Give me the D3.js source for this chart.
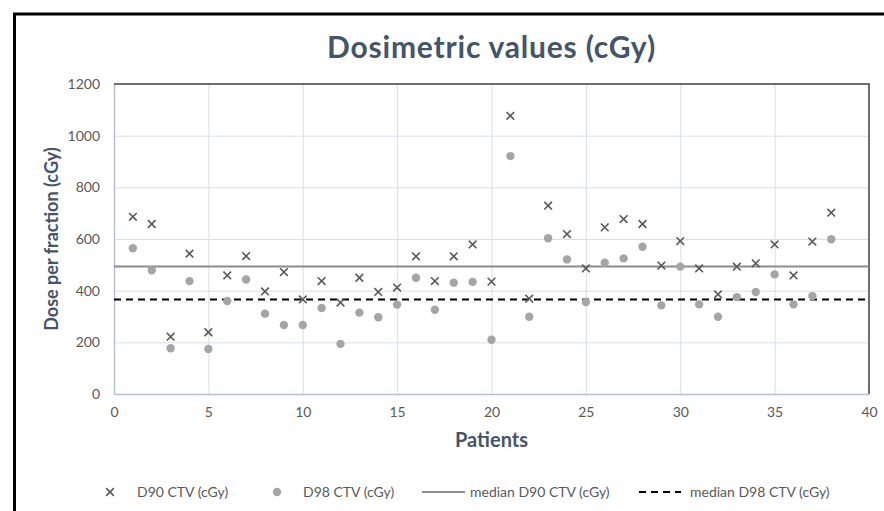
<!DOCTYPE html>
<html>
<head>
<meta charset="utf-8">
<script src="https://cdn.jsdelivr.net/npm/d3@7"></script>
<style>
  body { margin: 0; background: #fff; }
  text { font-family: Lato, "Open Sans", sans-serif; }
</style>
</head>
<body>
<script>
const patients = d3.range(1, 39);
const d90 = [686, 658, 222, 543, 239, 459, 534, 397, 472, 366,
  437, 354, 450, 395, 412, 533, 437, 533, 579, 435,
  1077, 369, 729, 619, 486, 645, 677, 658, 497, 592,
  486, 386, 493, 506, 579, 459, 590, 702];
const d98 = [564, 479, 177, 437, 174, 360, 443, 311, 267, 267,
  333, 194, 315, 297, 346, 450, 326, 431, 434, 210,
  921, 299, 603, 521, 356, 508, 525, 570, 343, 493,
  347, 299, 375, 395, 463, 347, 379, 599];
const medianD90 = 494;
const medianD98 = 366;
const xTicks = [0, 5, 10, 15, 20, 25, 30, 35, 40];
const yTicks = [0, 200, 400, 600, 800, 1000, 1200];
const legendLabels = ['D90 CTV (cGy)', 'D98 CTV (cGy)', 'median D90 CTV (cGy)', 'median D98 CTV (cGy)'];

const width = 884, height = 511;
const margin = { top: 84, right: 15, bottom: 117, left: 114 };

const svg = d3.select('body').append('svg')
  .attr('width', width)
  .attr('height', height);

// outer chart frame (right/bottom edges cut off in the source)
svg.append('path')
  .attr('d', `M14.5,${height} V14 H${width}`)
  .attr('fill', 'none')
  .attr('stroke', '#000')
  .attr('stroke-width', 3);

const x = d3.scaleLinear().domain([0, 40]).range([margin.left, width - margin.right]);
const y = d3.scaleLinear().domain([0, 1200]).range([height - margin.bottom, margin.top]);

// gridlines
svg.append('g')
  .selectAll('line.gy')
  .data(yTicks.slice(1, -1))
  .join('line')
  .attr('x1', x(0)).attr('x2', x(40))
  .attr('y1', d => y(d) + 0.5).attr('y2', d => y(d) + 0.5)
  .attr('stroke', '#d9dfe9');

svg.append('g')
  .selectAll('line.gx')
  .data(xTicks.slice(1, -1))
  .join('line')
  .attr('y1', y(0)).attr('y2', y(1200))
  .attr('x1', d => x(d) + 0.5).attr('x2', d => x(d) + 0.5)
  .attr('stroke', '#d9dfe9');

// axes
const yAxis = svg.append('g')
  .attr('transform', `translate(${x(0)},0)`)
  .call(d3.axisLeft(y).tickValues(yTicks).tickFormat(d3.format('d')).tickSize(0).tickPadding(14));
const xAxis = svg.append('g')
  .attr('transform', `translate(0,${y(0)})`)
  .call(d3.axisBottom(x).tickValues(xTicks).tickSize(0).tickPadding(13));
[yAxis, xAxis].forEach(g => {
  g.select('.domain').attr('stroke', '#b4c1d6').attr('stroke-width', 1.5);
  g.selectAll('text').attr('fill', '#595959').style('font-size', '14px')
    .style('font-family', 'Lato, sans-serif');
});

// dark top / right edge of plot area
svg.append('path')
  .attr('d', `M${x(0)},${y(1200)} H${x(40)} V${y(0)}`)
  .attr('fill', 'none')
  .attr('stroke', '#404040')
  .attr('stroke-width', 1.5);

// median lines
svg.append('line')
  .attr('x1', x(0)).attr('x2', x(40))
  .attr('y1', y(medianD90)).attr('y2', y(medianD90))
  .attr('stroke', '#8c8c8c').attr('stroke-width', 2);
svg.append('line')
  .attr('x1', x(0)).attr('x2', x(40))
  .attr('y1', y(medianD98)).attr('y2', y(medianD98))
  .attr('stroke', '#000').attr('stroke-width', 2)
  .attr('stroke-dasharray', '7,5');

// D98 circles
svg.append('g')
  .selectAll('circle')
  .data(patients)
  .join('circle')
  .attr('cx', (p, i) => x(p))
  .attr('cy', (p, i) => y(d98[i]))
  .attr('r', 4.2)
  .attr('fill', '#a5a5a5');

// D90 crosses
const cross = d3.symbol().type(d3.symbolX).size(40);
svg.append('g')
  .selectAll('path')
  .data(patients)
  .join('path')
  .attr('transform', (p, i) => `translate(${x(p)},${y(d90[i])})`)
  .attr('d', cross)
  .attr('fill', 'none')
  .attr('stroke', '#595959')
  .attr('stroke-width', 1.6);

// titles
svg.append('text')
  .attr('x', (x(0) + x(40)) / 2).attr('y', 58)
  .attr('text-anchor', 'middle')
  .attr('fill', '#44546a')
  .style('font-size', '30px').style('font-weight', 'bold')
  .style('letter-spacing', '0.8px')
  .text('Dosimetric values (cGy)');

svg.append('text')
  .attr('x', (x(0) + x(40)) / 2).attr('y', 447)
  .attr('text-anchor', 'middle')
  .attr('fill', '#44546a')
  .style('font-size', '20px').style('font-weight', 'bold')
  .text('Patients');

svg.append('text')
  .attr('transform', `translate(58,${y(600)}) rotate(-90)`)
  .attr('text-anchor', 'middle')
  .attr('fill', '#44546a')
  .style('font-size', '18px').style('font-weight', 'bold')
  .text('Dose per fraction (cGy)');

// legend
const ly = 492;
const legend = svg.append('g');
legend.append('path')
  .attr('transform', `translate(110,${ly})`)
  .attr('d', cross)
  .attr('fill', 'none').attr('stroke', '#595959').attr('stroke-width', 1.6);
legend.append('circle')
  .attr('cx', 277).attr('cy', ly).attr('r', 4.2).attr('fill', '#a5a5a5');
legend.append('line')
  .attr('x1', 422).attr('x2', 465).attr('y1', ly).attr('y2', ly)
  .attr('stroke', '#8c8c8c').attr('stroke-width', 2);
legend.append('line')
  .attr('x1', 639).attr('x2', 681).attr('y1', ly).attr('y2', ly)
  .attr('stroke', '#000').attr('stroke-width', 2).attr('stroke-dasharray', '7,5');
legend.selectAll('text')
  .data(legendLabels)
  .join('text')
  .attr('x', (d, i) => [137, 303, 470, 690][i])
  .attr('y', ly + 5)
  .attr('fill', '#595959')
  .style('font-size', '14px')
  .text(d => d);
</script>
</body>
</html>
